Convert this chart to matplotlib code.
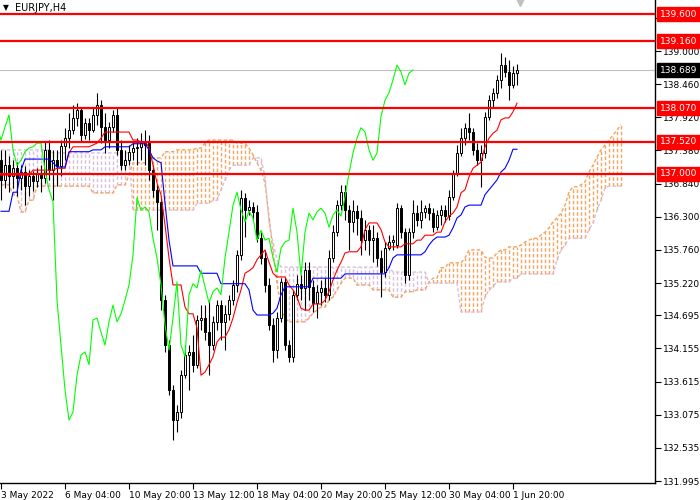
import matplotlib
matplotlib.use("Agg")
import matplotlib.pyplot as plt
import matplotlib.transforms as mtransforms
import numpy as np

symbol = "EURJPY,H4"

# H4 candles, oldest first (price)
opens = [137.22, 136.90, 137.14, 136.96, 137.09, 136.93, 137.03, 136.80, 136.96, 136.88,
         137.01, 136.93, 137.39, 137.06, 137.22, 137.13, 137.45, 137.58, 137.71, 137.91,
         138.04, 137.63, 137.83, 137.71, 137.96, 138.12, 137.76, 137.55, 137.76, 137.96,
         137.39, 137.14, 137.22, 137.36, 137.42, 137.44, 137.47, 137.50, 137.06, 136.74,
         136.54, 134.94, 134.21, 133.48, 132.99, 133.12, 133.72, 134.05, 134.10, 133.89,
         134.62, 134.65, 134.42, 134.21, 134.59, 134.86, 134.59, 134.72, 134.94, 135.19,
         135.68, 136.61, 136.41, 136.46, 136.38, 135.95, 135.63, 135.19, 134.54, 134.13,
         134.65, 135.24, 134.21, 134.02, 135.03, 135.21, 135.14, 135.43, 135.16, 134.90,
         135.08, 135.14, 135.03, 135.63, 136.05, 136.49, 136.70, 136.41, 136.22, 136.39,
         136.28, 135.92, 136.08, 135.92, 135.95, 135.63, 135.40, 135.79, 135.89, 135.84,
         136.44, 136.05, 135.35, 136.05, 136.36, 136.25, 136.38, 136.44, 136.36, 136.13,
         136.33, 136.41, 136.31, 136.62, 137.01, 137.34, 137.58, 137.75, 137.68, 137.39,
         137.22, 137.34, 137.93, 138.20, 138.32, 138.53, 138.77, 138.66, 138.45, 138.64]
highs = [137.39, 137.39, 137.29, 137.22, 137.19, 137.14, 137.13, 137.06, 137.05, 137.09,
         137.14, 137.53, 137.55, 137.39, 137.39, 137.55, 137.75, 137.99, 138.12, 138.15,
         138.07, 137.91, 137.91, 138.09, 138.32, 138.20, 137.99, 137.84, 138.04, 138.07,
         137.55, 137.39, 137.47, 137.52, 137.58, 137.66, 137.71, 137.63, 137.14, 136.82,
         136.61, 135.03, 134.29, 133.56, 133.23, 133.80, 134.21, 134.21, 134.37, 134.70,
         134.86, 134.86, 134.94, 134.68, 134.94, 134.94, 134.86, 135.03, 135.27, 135.76,
         136.74, 136.69, 136.57, 136.54, 136.49, 136.05, 135.76, 135.30, 134.65, 134.75,
         135.30, 135.30, 134.29, 135.11, 135.35, 135.35, 135.56, 135.56, 135.27, 135.19,
         135.27, 135.30, 135.76, 136.17, 136.57, 136.82, 136.82, 136.49, 136.57, 136.49,
         136.41, 136.25, 136.17, 136.17, 136.05, 135.76, 135.89, 136.00, 136.00, 136.52,
         136.49, 136.12, 136.12, 136.57, 136.49, 136.57, 136.49, 136.52, 136.44, 136.41,
         136.49, 136.49, 136.74, 137.06, 137.47, 137.75, 137.83, 137.99, 137.75, 137.50,
         137.47, 138.01, 138.28, 138.40, 138.61, 138.97, 138.90, 138.85, 138.76, 138.79]
lows = [136.57, 136.77, 136.70, 136.77, 136.64, 136.74, 136.49, 136.64, 136.72, 136.78,
        136.70, 136.85, 136.90, 136.57, 136.80, 136.96, 137.22, 137.42, 137.65, 137.78,
        137.52, 137.57, 137.55, 137.68, 137.80, 137.50, 137.34, 137.42, 137.68, 137.31,
        137.06, 137.06, 137.14, 137.22, 137.14, 137.22, 137.14, 136.90, 136.62, 136.08,
        134.78, 134.10, 133.40, 132.66, 132.80, 133.02, 133.67, 133.48, 133.77, 133.84,
        134.46, 134.29, 133.72, 134.13, 134.46, 134.29, 134.13, 134.62, 134.86, 135.08,
        135.60, 135.97, 136.33, 136.25, 135.89, 135.53, 135.08, 134.46, 133.93, 134.00,
        134.59, 134.13, 133.93, 133.93, 134.94, 134.94, 134.78, 134.94, 134.75, 134.65,
        134.86, 134.91, 134.94, 135.56, 135.99, 136.41, 136.25, 135.76, 136.05, 136.00,
        135.68, 135.76, 135.68, 135.56, 135.50, 134.99, 135.32, 135.76, 135.76, 135.79,
        135.95, 135.22, 135.27, 135.95, 136.15, 136.12, 136.28, 136.25, 136.05, 136.08,
        136.17, 136.22, 136.25, 136.57, 136.96, 137.29, 137.47, 137.55, 137.31, 137.14,
        136.78, 137.26, 137.88, 138.07, 138.23, 138.40, 138.58, 138.20, 138.40, 138.45]
closes = [136.90, 137.14, 136.96, 137.09, 136.93, 137.03, 136.80, 136.96, 136.88, 137.01,
          136.93, 137.39, 137.06, 137.22, 137.13, 137.45, 137.58, 137.71, 137.91, 138.04,
          137.63, 137.83, 137.71, 137.96, 138.12, 137.76, 137.55, 137.76, 137.96, 137.39,
          137.14, 137.22, 137.36, 137.42, 137.44, 137.50, 137.50, 137.06, 136.74, 136.54,
          134.94, 134.21, 133.48, 132.99, 133.12, 133.72, 134.05, 134.10, 133.89, 134.62,
          134.65, 134.42, 134.21, 134.59, 134.86, 134.59, 134.72, 134.94, 135.19, 135.68,
          136.61, 136.41, 136.46, 136.38, 135.95, 135.63, 135.19, 134.54, 134.13, 134.65,
          135.24, 134.21, 134.02, 135.03, 135.21, 135.14, 135.43, 135.16, 134.90, 135.08,
          135.14, 135.03, 135.63, 136.05, 136.49, 136.70, 136.41, 136.22, 136.39, 136.28,
          135.92, 136.08, 135.92, 135.95, 135.63, 135.40, 135.79, 135.89, 135.92, 136.44,
          136.05, 135.35, 136.05, 136.36, 136.25, 136.38, 136.44, 136.36, 136.13, 136.33,
          136.41, 136.31, 136.62, 137.01, 137.34, 137.58, 137.75, 137.68, 137.39, 137.22,
          137.34, 137.93, 138.20, 138.32, 138.53, 138.77, 138.66, 138.45, 138.64, 138.689]

# Ichimoku lines, one value per bar
tenkan = ([136.98] * 8 + [137.06] * 6 + [137.09] * 3 + [137.34] + [137.44] * 5
          + [137.47, 137.50, 137.58] + [137.68] * 7 + [137.55] * 2 + [137.52] * 2
          + [137.44, 137.14, 136.85, 136.66, 136.17, 135.63] + [135.19] * 3 + [134.83]
          + [134.72] * 2 + [134.49, 133.72, 133.77, 133.89, 134.02, 134.26] + [134.34] * 2
          + [134.46, 134.65, 134.90, 135.11, 135.38, 135.42, 135.47, 135.60, 135.68, 135.76, 135.56, 135.38]
          + [135.32] * 3 + [135.19, 135.11, 134.99, 134.81] + [134.78] * 2 + [134.88] * 3
          + [134.94, 135.08, 135.27, 135.43, 135.56, 135.71] + [135.73] * 3 + [135.81, 136.09]
          + [136.20] * 3 + [136.09, 135.89] + [135.81] * 4 + [135.86] * 3 + [135.92] * 2
          + [136.00] * 3 + [136.05] * 2
          + [136.22, 136.31, 136.36, 136.46, 136.69, 136.74, 136.95, 137.09, 137.14, 137.19,
             137.44, 137.58, 137.66, 137.71, 137.88] + [137.91] * 2 + [138.01, 138.15])
kijun = ([136.39] * 3 + [136.70] * 2 + [137.06] + [137.24] * 7 + [137.18] + [137.11] * 3
         + [137.36] * 6 + [137.39] * 3 + [137.44] * 7 + [137.49] * 4
         + [137.39, 137.26, 137.21, 137.18, 136.52, 135.92] + [135.50] * 7 + [135.38] * 5
         + [135.21] * 7 + [135.11, 134.78] + [134.70] * 4 + [134.73, 134.81, 135.03]
         + [135.16] * 7 + [135.30] * 8 + [135.37] * 11 + [135.47, 135.63] + [135.68] * 7
         + [135.73, 135.84, 135.92] + [135.97] * 3 + [136.00, 136.12, 136.28, 136.33, 136.46]
         + [136.49] * 4 + [136.66, 136.74, 136.82, 136.90, 137.03, 137.09, 137.22] + [137.40] * 2)
# senkou spans already shifted 26 bars ahead
senkou_a = ([136.82] * 3 + [136.66] * 2 + [136.38] * 2 + [136.57] * 2 + [136.80] * 14
            + [136.69] * 6 + [136.82] * 3 + [136.98] + [137.18] * 5 + [137.26] * 3
            + [137.36] * 3 + [137.39] * 5 + [137.42] * 2 + [137.50] + [137.55] * 7 + [137.50] * 3
            + [137.42, 137.31, 137.18, 137.06, 136.85, 136.30, 135.73, 135.22, 134.83, 134.65]
            + [134.59] * 5 + [134.65, 134.73, 134.78] + [134.83] * 2
            + [134.94, 134.99, 135.11, 135.22] + [135.30] * 3 + [135.19] * 4 + [135.11] * 5
            + [134.99] * 3 + [135.08] * 3 + [135.11] * 3 + [135.24] + [135.30] * 2
            + [135.47] * 2 + [135.55] * 4 + [135.63] + [135.76] * 4 + [135.64] + [135.63] * 2
            + [135.71] + [135.76] * 2 + [135.81] * 3 + [135.84, 135.89, 135.92] + [135.95] * 2
            + [136.00, 136.05, 136.12, 136.22, 136.28, 136.36, 136.49, 136.70] + [136.79] * 2
            + [136.82, 136.87, 137.03, 137.14, 137.27, 137.39, 137.47, 137.55, 137.63, 137.71, 137.80])
senkou_b = ([137.39] * 13 + [137.34] * 20 + [136.41] * 16 + [136.52] * 4 + [136.57] * 2
            + [136.74, 136.90, 137.06] + [137.14] * 5 + [137.26] * 3
            + [136.95, 136.22, 135.87, 135.60] + [135.48] * 28 + [135.40] * 9 + [135.22] * 8
            + [134.75] * 6 + [134.99, 135.11, 135.16] + [135.24] * 4 + [135.30] * 2
            + [135.37] * 9 + [135.60, 135.76, 135.84] + [135.95] * 5
            + [136.09, 136.20, 136.41, 136.57, 136.77] + [136.80] * 4)

levels = [139.600, 139.160, 138.070, 137.520, 137.000]
price_ticks = [139.540, 139.000, 138.460, 137.920, 137.380, 136.840, 136.300, 135.760,
               135.220, 134.695, 134.155, 133.615, 133.075, 132.535, 131.995]
time_ticks = [0, 16, 32, 48, 64, 80, 96, 112, 128]
time_labels = ["3 May 2022", "6 May 04:00", "10 May 20:00", "13 May 12:00", "18 May 04:00",
               "20 May 20:00", "25 May 12:00", "30 May 04:00", "1 Jun 20:00"]

SANDY = '#F4A460'
THISTLE = '#D8BFD8'
DOTS = (0, (2.5, 1.6))

fig = plt.figure(figsize=(7, 5), dpi=100)
ax = fig.add_axes([0, 17 / 500, 655 / 700, 483 / 500])
ax.set_facecolor('white')

o = np.array(opens)
h = np.array(highs)
l = np.array(lows)
c = np.array(closes)
idx = np.arange(len(c))

# kumo: dotted histogram between the two spans, one colour per side
sa = np.array(senkou_a)
sb = np.array(senkou_b)
fk = np.arange(len(sa))
bull = sa >= sb
lo_span = np.minimum(sa, sb)
hi_span = np.maximum(sa, sb)
ax.vlines(fk[bull], lo_span[bull], hi_span[bull], color=SANDY, lw=1.0, linestyles=[DOTS], zorder=1)
ax.vlines(fk[~bull], lo_span[~bull], hi_span[~bull], color=THISTLE, lw=1.0, linestyles=[DOTS], zorder=1)
ax.plot(fk, sa, color=SANDY, lw=1.0, ls=DOTS, zorder=1.5)
ax.plot(fk, sb, color=THISTLE, lw=1.0, ls=DOTS, zorder=1.5)

# current price line
ax.axhline(c[-1], color='#C0C0C0', lw=0.8, zorder=0.5)

# candles
up = c >= o
ax.vlines(idx, l, h, color='black', lw=0.8, zorder=3)
body_lo = np.minimum(o, c)
body_h = np.maximum(np.abs(c - o), 0.012)
ax.bar(idx, body_h, bottom=body_lo, width=0.62, color=np.where(up, 'white', 'black'),
       edgecolor='black', linewidth=0.7, zorder=4)

# tenkan / kijun / chikou
ax.plot(idx, tenkan, color='red', lw=0.8, zorder=5)
ax.plot(idx, kijun, color='blue', lw=0.8, zorder=5)
ax.plot(idx - 26, c, color='#00FF00', lw=0.8, zorder=5)

for lv in levels:
    ax.axhline(lv, color='red', lw=1.6, zorder=6)

ax.set_xlim(-0.25, 163.5)
ax.set_ylim(131.964, 139.831)

# axes styling like the terminal
for side in ['left', 'top']:
    ax.spines[side].set_visible(False)
for side in ['right', 'bottom']:
    ax.spines[side].set_color('black')
    ax.spines[side].set_linewidth(1.0)

ax.yaxis.tick_right()
ax.set_yticks(price_ticks)
ax.set_yticklabels([f'{t:.3f}' for t in price_ticks])
ax.tick_params(axis='y', direction='out', length=4, width=0.8, pad=2, labelsize=6.5, colors='black')
ax.set_xticks(time_ticks)
ax.set_xticklabels(time_labels)
ax.tick_params(axis='x', direction='out', length=4, width=0.8, pad=2, labelsize=6.5)
for lab in ax.get_xticklabels():
    lab.set_horizontalalignment('left')

# price tags on the right scale
trans = mtransforms.blended_transform_factory(ax.transAxes, ax.transData)
for lv in levels:
    ax.text(1.0 + 5 / 655, lv, f'{lv:.3f}', transform=trans, color='white', fontsize=6.5,
            va='center', ha='left', clip_on=False, zorder=10,
            bbox=dict(boxstyle='square,pad=0.3', fc='red', ec='red'))
ax.text(1.0 + 5 / 655, c[-1], f'{c[-1]:.3f}', transform=trans, color='white', fontsize=6.5,
        va='center', ha='left', clip_on=False, zorder=10,
        bbox=dict(boxstyle='square,pad=0.3', fc='black', ec='black'))

# symbol caption and chart shift marker
ax.text(3 / 655, 1 - 8 / 483, u'\u25bc', transform=ax.transAxes, fontsize=5.5, va='center', ha='left')
ax.text(15 / 655, 1 - 8 / 483, symbol, transform=ax.transAxes, fontsize=7, va='center', ha='left')
ax.plot([520 / 655], [1 - 1 / 483], marker='v', ms=7, color='#C0C0C0', transform=ax.transAxes,
        clip_on=False, zorder=10)

fig.savefig('out.png', dpi=100)
